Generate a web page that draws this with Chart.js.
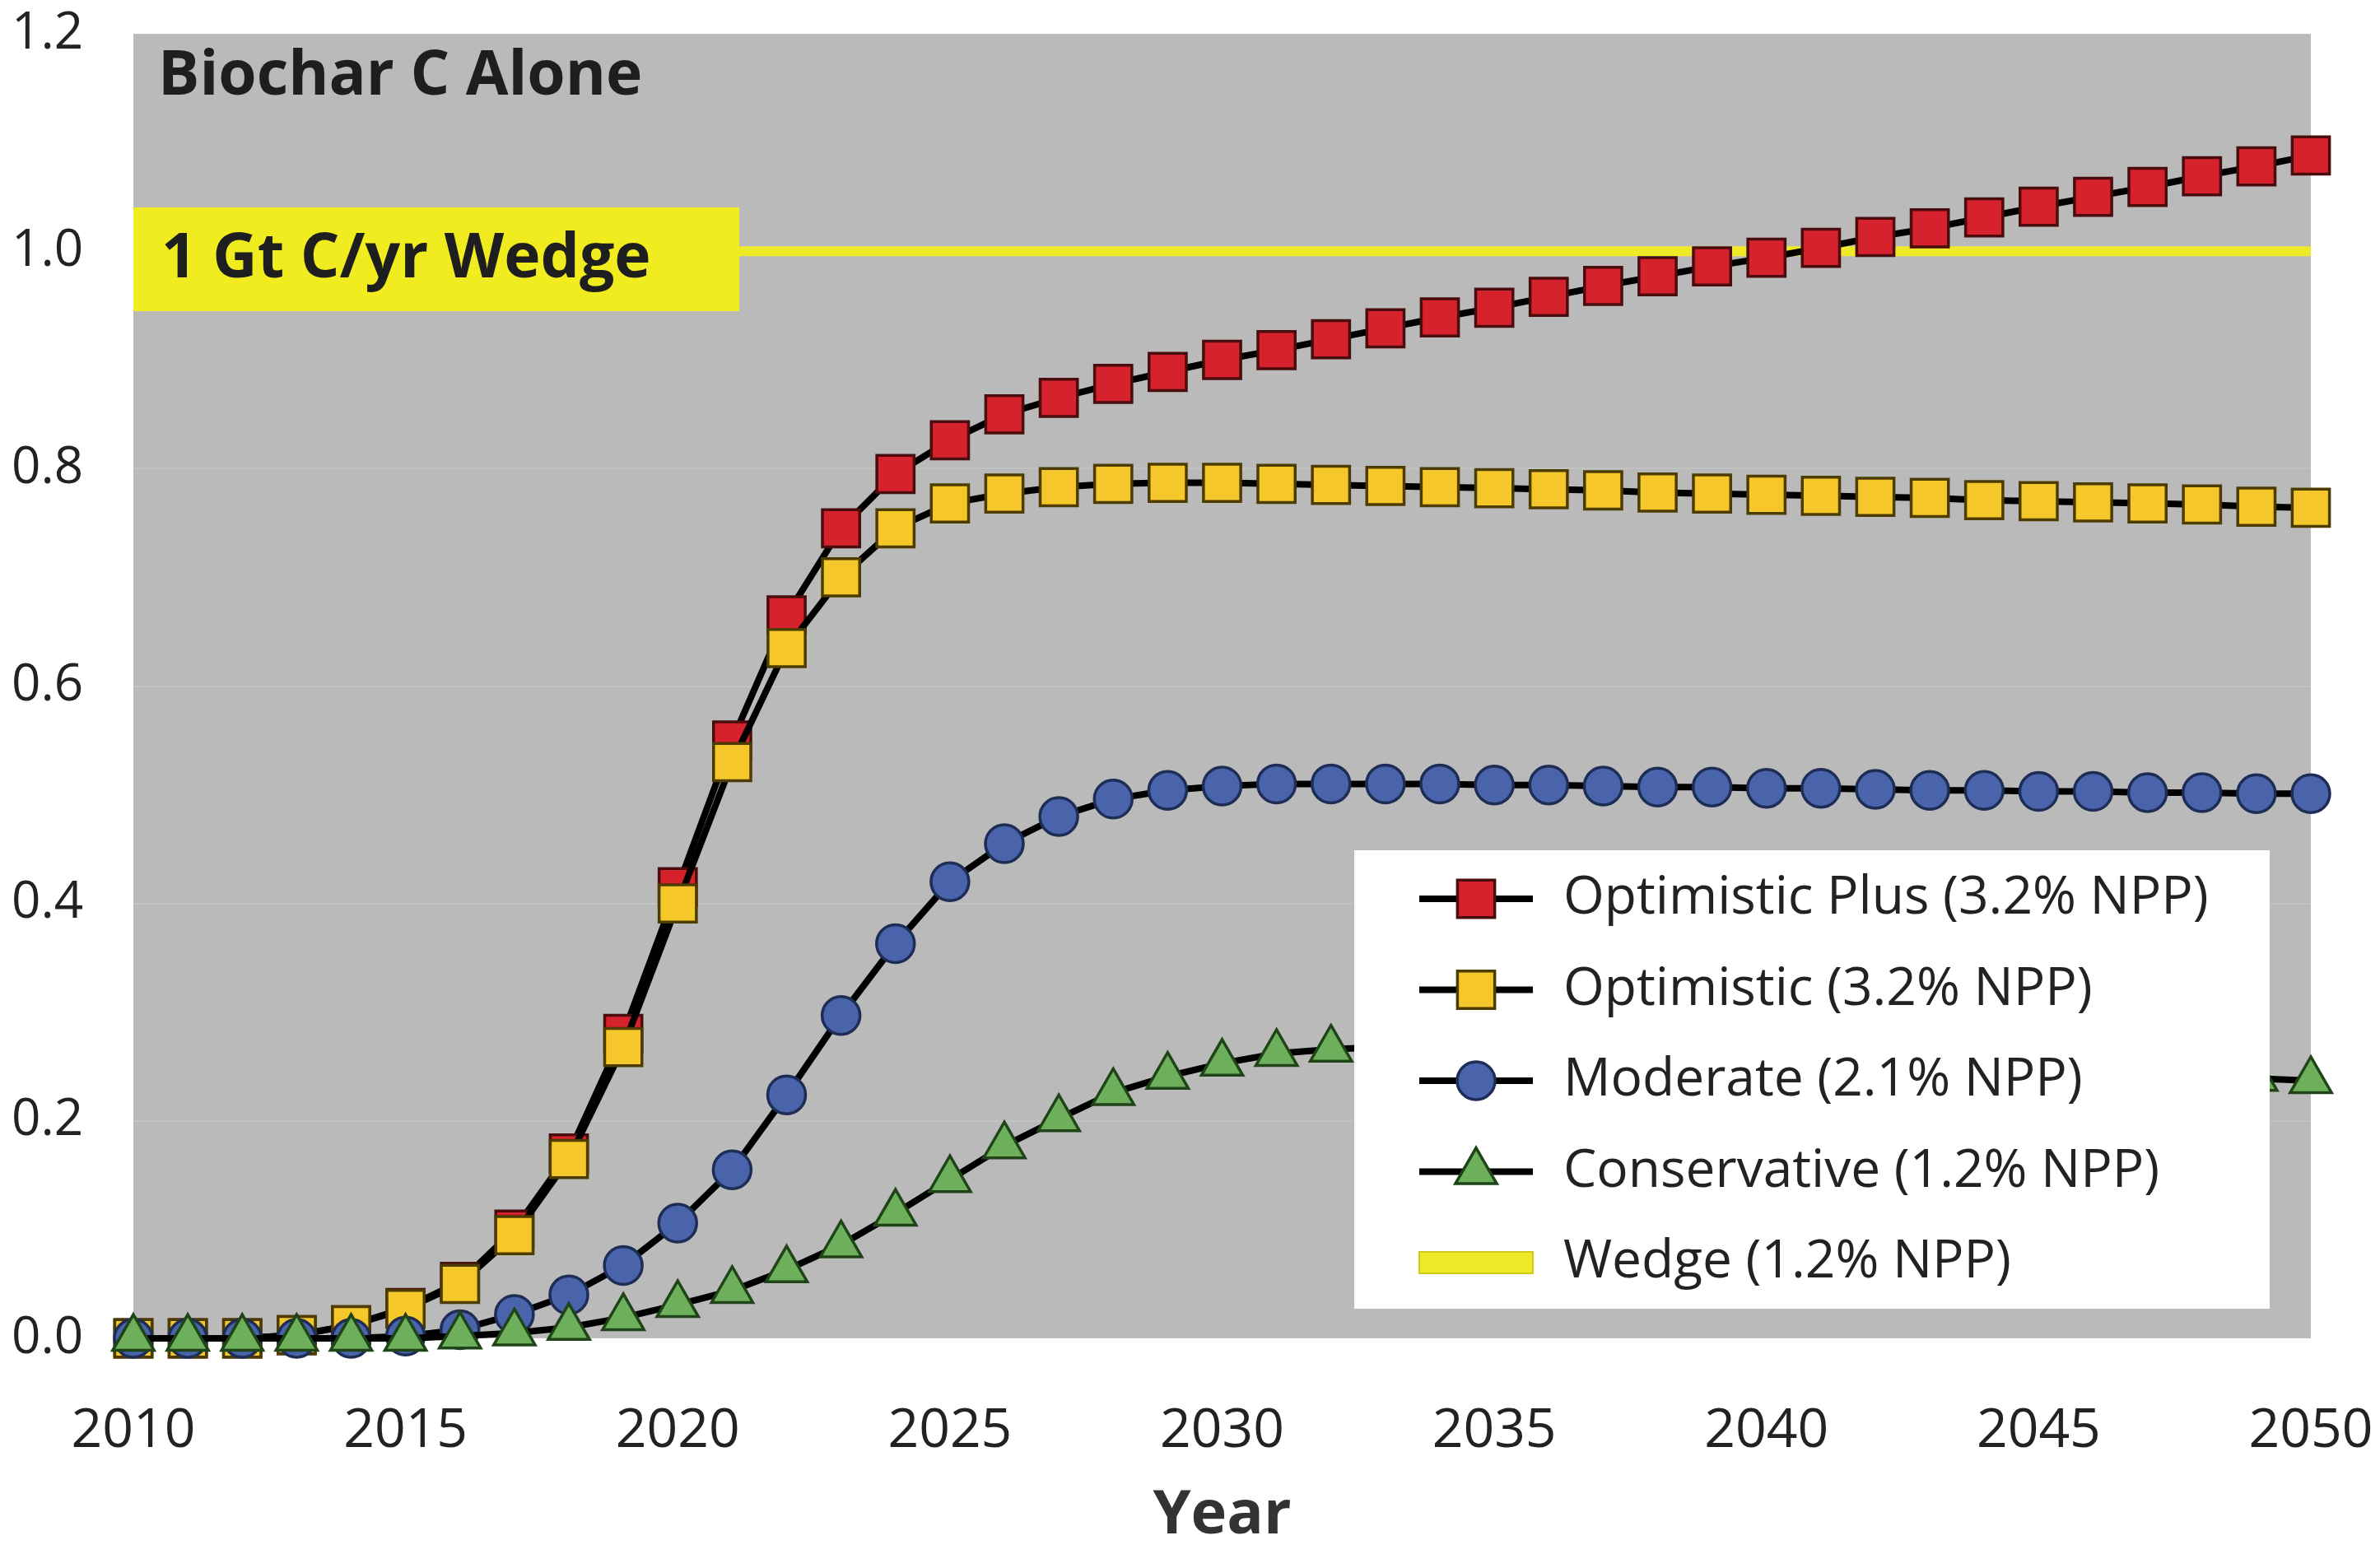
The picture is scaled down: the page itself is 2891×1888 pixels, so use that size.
<!DOCTYPE html>
<html>
<head>
<meta charset="utf-8">
<script src="https://cdn.jsdelivr.net/npm/chart.js@4.4.1/dist/chart.umd.min.js"></script>
<style>
  html, body { margin: 0; padding: 0; background: #fff; }
  #wrap { width: 2891px; height: 1888px; }
</style>
</head>
<body>
<div id="wrap"><canvas id="chart"></canvas></div>
<script>
// Years on the x axis
const years = [
  2010, 2011, 2012, 2013, 2014, 2015, 2016, 2017, 2018, 2019,
  2020, 2021, 2022, 2023, 2024, 2025, 2026, 2027, 2028, 2029,
  2030, 2031, 2032, 2033, 2034, 2035, 2036, 2037, 2038, 2039,
  2040, 2041, 2042, 2043, 2044, 2045, 2046, 2047, 2048, 2049, 2050
];

// Gt C / yr
const optimisticPlus = [
  0, 0, 0, 0.003, 0.012, 0.028, 0.052, 0.10, 0.17, 0.28,
  0.415, 0.55, 0.665, 0.745, 0.795, 0.826, 0.85, 0.865, 0.878, 0.889,
  0.90, 0.909, 0.919, 0.929, 0.939, 0.948, 0.958, 0.968, 0.977, 0.986,
  0.994, 1.003, 1.013, 1.021, 1.031, 1.041, 1.05, 1.059, 1.069, 1.078, 1.088
];
const optimistic = [
  0, 0, 0, 0.003, 0.012, 0.027, 0.05, 0.095, 0.165, 0.268,
  0.40, 0.53, 0.635, 0.70, 0.745, 0.768, 0.777, 0.783, 0.786, 0.787,
  0.787, 0.786, 0.785, 0.784, 0.783, 0.782, 0.781, 0.78, 0.778, 0.777,
  0.776, 0.775, 0.774, 0.773, 0.771, 0.77, 0.769, 0.768, 0.767, 0.765, 0.764
];
const moderate = [
  0, 0, 0, 0, 0, 0.002, 0.008, 0.022, 0.04, 0.067,
  0.106, 0.155, 0.224, 0.297, 0.363, 0.42, 0.455, 0.48, 0.496, 0.504,
  0.508, 0.51, 0.51, 0.51, 0.51, 0.509, 0.509, 0.508, 0.507, 0.507,
  0.506, 0.506, 0.505, 0.504, 0.504, 0.503, 0.503, 0.502, 0.502, 0.501, 0.501
];
const conservative = [
  0, 0, 0, 0, 0, 0, 0.002, 0.005, 0.01, 0.019,
  0.031, 0.044, 0.063, 0.086, 0.115, 0.146, 0.177, 0.202, 0.226, 0.241,
  0.253, 0.262, 0.266, 0.268, 0.268, 0.267, 0.266, 0.265, 0.263, 0.261,
  0.259, 0.257, 0.255, 0.253, 0.251, 0.249, 0.247, 0.244, 0.241, 0.239, 0.237
];
const wedgeYears = [2010, 2050];
const wedgeValues = [1.0, 1.0];

const seriesLabels = [
  'Optimistic Plus (3.2% NPP)',
  'Optimistic (3.2% NPP)',
  'Moderate (2.1% NPP)',
  'Conservative (1.2% NPP)',
  'Wedge (1.2% NPP)'
];
const yTicks = [0, 0.2, 0.4, 0.6, 0.8, 1.0, 1.2];

const FONT = "'Open Sans', 'Noto Sans', sans-serif";
const toPoints = (xs, ys) => xs.map((x, i) => ({ x: x, y: ys[i] }));

// gray plot background
const plotBackground = {
  id: 'plotBackground',
  beforeDraw(chart) {
    const { ctx, chartArea: a } = chart;
    ctx.save();
    ctx.fillStyle = '#bababa';
    ctx.fillRect(a.left, a.top, a.right - a.left, a.bottom - a.top);
    ctx.restore();
  }
};

// panel title, wedge tag and the boxed legend
const annotations = {
  id: 'annotations',
  afterDatasetsDraw(chart) {
    const ctx = chart.ctx;
    const a = chart.chartArea;
    ctx.save();

    ctx.font = 'bold 75px ' + FONT;
    ctx.fillStyle = '#1e1e1e';
    ctx.textBaseline = 'middle';
    ctx.textAlign = 'left';
    ctx.fillText('Biochar C Alone', a.left + 30, 94);

    ctx.fillStyle = '#f1ec20';
    ctx.fillRect(a.left, 252, 736, 126);
    ctx.fillStyle = '#1e1e1e';
    ctx.fillText('1 Gt C/yr Wedge', a.left + 34, 316);

    // legend box
    ctx.fillStyle = '#ffffff';
    ctx.fillRect(1645, 1033, 1112, 557);
    const y0 = 1092, gap = 110.5, x1 = 1724, x2 = 1862, xm = 1793;
    chart.data.datasets.forEach((ds, i) => {
      const y = y0 + i * gap;
      if (ds.isWedge) {
        ctx.fillStyle = ds.borderColor;
        ctx.fillRect(x1, y - 13, x2 - x1, 26);
        ctx.strokeStyle = '#cfc81a';
        ctx.lineWidth = 2;
        ctx.strokeRect(x1, y - 13, x2 - x1, 26);
      } else {
        ctx.strokeStyle = '#000';
        ctx.lineWidth = 8;
        ctx.beginPath();
        ctx.moveTo(x1, y);
        ctx.lineTo(x2, y);
        ctx.stroke();
        ctx.fillStyle = ds.pointBackgroundColor;
        ctx.strokeStyle = ds.pointBorderColor;
        ctx.lineWidth = ds.pointBorderWidth;
        Chart.helpers.drawPoint(ctx, {
          pointStyle: ds.pointStyle,
          radius: ds.pointRadius,
          rotation: 0,
          borderWidth: ds.pointBorderWidth
        }, xm, y);
      }
      ctx.fillStyle = '#222';
      ctx.font = '64px ' + FONT;
      ctx.textAlign = 'left';
      ctx.textBaseline = 'middle';
      ctx.fillText(ds.label, 1899, y);
    });
    ctx.restore();
  }
};

function series(label, values, fill, border, style, radius, order) {
  return {
    label: label,
    data: toPoints(years, values),
    borderColor: '#000000',
    borderWidth: 8,
    pointStyle: style,
    pointRadius: radius,
    pointHoverRadius: radius,
    pointBackgroundColor: fill,
    pointBorderColor: border,
    pointBorderWidth: 3.5,
    tension: 0,
    clip: false,
    order: order
  };
}

new Chart(document.getElementById('chart'), {
  type: 'line',
  data: {
    datasets: [
      series(seriesLabels[0], optimisticPlus, '#d6222c', '#4a0c0c', 'rect', 32, 4),
      series(seriesLabels[1], optimistic, '#f6c72b', '#4d3c00', 'rect', 32, 3),
      series(seriesLabels[2], moderate, '#4a64ab', '#1e2d55', 'circle', 23, 2),
      series(seriesLabels[3], conservative, '#6daf5a', '#1f4418', 'triangle', 29, 1),
      {
        label: seriesLabels[4],
        isWedge: true,
        data: toPoints(wedgeYears, wedgeValues),
        borderColor: '#efea28',
        borderWidth: 12,
        pointRadius: 0,
        clip: false,
        order: 5
      }
    ]
  },
  options: {
    responsive: true,
    maintainAspectRatio: false,
    animation: false,
    devicePixelRatio: 1,
    layout: { padding: { left: 14, right: 84, top: 41, bottom: 0 } },
    plugins: {
      legend: { display: false },
      tooltip: { enabled: false }
    },
    scales: {
      x: {
        type: 'linear',
        min: 2010,
        max: 2050,
        grid: { display: true, drawOnChartArea: false, color: 'transparent', tickColor: 'transparent', drawTicks: true, tickLength: 74 },
        border: { display: false },
        ticks: {
          stepSize: 5,
          padding: 0,
          maxRotation: 0,
          color: '#222',
          font: { family: FONT, size: 66 },
          callback: (v) => String(v)
        },
        title: {
          display: true,
          text: 'Year',
          color: '#333',
          font: { family: FONT, size: 74, weight: 'bold' },
          padding: { top: 0, bottom: 2 }
        },
        afterFit: (s) => { s.height = 262; }
      },
      y: {
        min: 0,
        max: 1.2,
        afterBuildTicks: (s) => { s.ticks = yTicks.map(v => ({ value: v })); },
        grid: { color: 'rgba(255,255,255,0.12)', lineWidth: 2, drawTicks: false },
        border: { display: false },
        ticks: {
          padding: 0,
          crossAlign: 'far',
          color: '#222',
          font: { family: FONT, size: 62 },
          callback: (v) => v.toFixed(1)
        },
        afterFit: (s) => { s.width = 148; }
      }
    }
  },
  plugins: [plotBackground, annotations]
});
</script>
</body>
</html>
